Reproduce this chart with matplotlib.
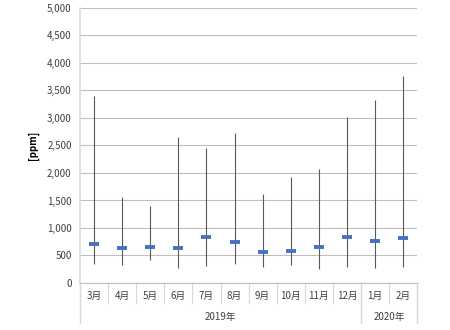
import numpy as np
import matplotlib.pyplot as plt

plt.rcParams['font.family'] = ['Noto Sans CJK JP', 'DejaVu Sans']

months = ['3月', '4月', '5月', '6月', '7月', '8月', '9月', '10月', '11月', '12月', '1月', '2月']
years = ['2019年', '2020年']
year_counts = [10, 2]

max_ppm = [3400, 1560, 1400, 2650, 2460, 2720, 1620, 1920, 2070, 3020, 3330, 3760]
min_ppm = [340, 320, 420, 280, 315, 345, 300, 330, 250, 285, 280, 290]
mean_ppm = [710, 630, 650, 630, 830, 740, 560, 590, 650, 830, 760, 810]

fig = plt.figure(figsize=(4.5, 3.3), dpi=100)
ax = fig.add_axes([0.178, 0.1424, 0.749, 0.8336])

x = np.arange(len(months))

# high-low lines
ax.vlines(x, min_ppm, max_ppm, color='#595959', lw=0.8, zorder=2)
# mean markers
ax.plot(x, mean_ppm, ls='none', marker='_', ms=7, mew=2.8, color='#4472C4', zorder=3)

ax.set_xlim(-0.5, len(months) - 0.5)
ax.set_ylim(0, 5000)
ax.set_yticks(np.arange(0, 5001, 500))
ax.set_yticklabels([f'{v:,}' for v in range(0, 5001, 500)], fontsize=7, color='#404040')
ax.tick_params(axis='y', length=0, pad=6)
ax.set_xticks([])
ax.grid(axis='y', color='#BFBFBF', lw=0.8, zorder=0)
ax.set_axisbelow(True)

for s in ['top', 'right']:
    ax.spines[s].set_visible(False)
ax.spines['left'].set_color('#D9D9D9')
ax.spines['left'].set_linewidth(1.2)
ax.spines['bottom'].set_color('#BFBFBF')
ax.spines['bottom'].set_linewidth(0.8)

ax.set_ylabel('[ppm]', fontsize=7, fontweight='bold', labelpad=6)

# multi-level category axis
tr = ax.get_xaxis_transform()
for i, m in enumerate(months):
    ax.text(i, -0.047, m, transform=tr, ha='center', va='center', fontsize=7, color='#404040')

bounds = np.cumsum([0] + year_counts) - 0.5
for b in np.arange(-0.5, len(months)):
    ax.plot([b, b], [0, -0.073], transform=tr, color='#D9D9D9', lw=0.8, clip_on=False)
for b in bounds:
    ax.plot([b, b], [0, -0.145], transform=tr, color='#D9D9D9', lw=1.0, clip_on=False)
for yname, lo, hi in zip(years, bounds[:-1], bounds[1:]):
    ax.text((lo + hi) / 2, -0.1225, yname, transform=tr, ha='center', va='center',
            fontsize=7, color='#404040')

fig.savefig('out.png', dpi=100)
